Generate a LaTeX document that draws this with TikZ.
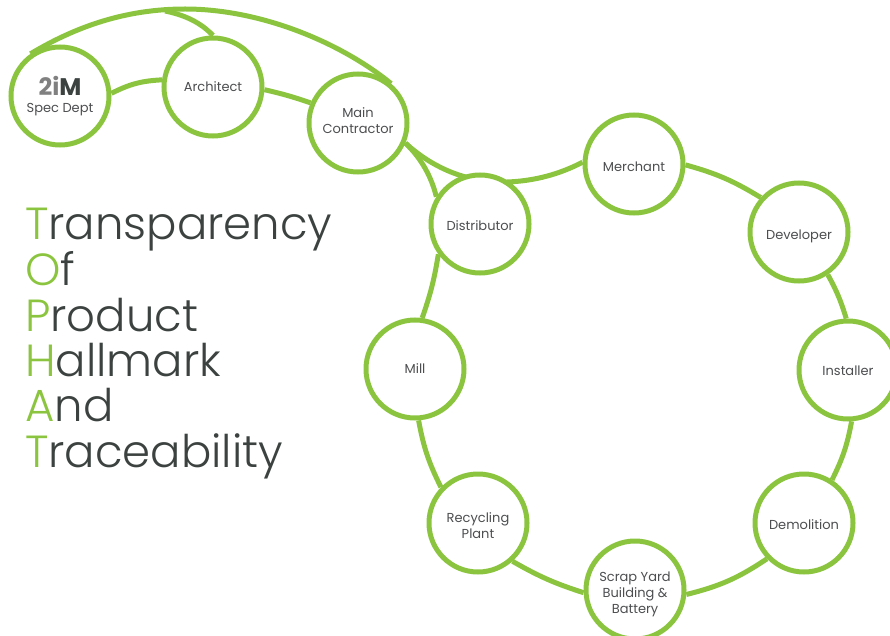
\documentclass[tikz,border=0pt]{standalone}
\usepackage{fontspec}
\setmainfont{Poppins}
\newfontfamily\thinface{Poppins Light}
\usetikzlibrary{backgrounds}
\definecolor{leaf}{HTML}{8BC53F}
\definecolor{labelgrey}{HTML}{4D4E50}
\definecolor{titlegrey}{HTML}{3B4240}
\tikzset{
	party/.style = {circle, draw = leaf, line width = 5pt, fill = white, minimum size = 98pt, inner sep = 0pt, align = center, text = labelgrey, font = \fontsize{13}{16}\selectfont},
	sink/.style = {text height = #1},
	lift/.style = {text depth = #1},
	link/.style = {draw = leaf, line width = 5pt},
	headline/.style = {anchor = base west, inner sep = 0pt, text = titlegrey, font = \thinface\fontsize{45}{45}\selectfont}
}
\begin{document}
\begin{tikzpicture}[x = 1pt, y = -1pt]
	\useasboundingbox (0,0) rectangle (890,636);
	% upper row
	\node[party] (spec) at (60,96) {{\fontsize{24}{24}\selectfont\bfseries\textcolor{gray}{2i}\textcolor{titlegrey}{M}}\\[1pt]Spec Dept};
	\node[party] (architect) at (213,87) {Architect};
	\node[party, lift = 4pt] (main) at (358,123) {Main\\Contractor};
	% ring
	\node[party, sink = 13.5pt] (distributor) at (480,224) {Distributor};
	\node[party, sink = 15.5pt] (merchant) at (634,164) {Merchant};
	\node[party, sink = 17.5pt] (developer) at (799,232) {Developer};
	\node[party, sink = 11.5pt] (installer) at (848,370) {Installer};
	\node[party, sink = 13.5pt] (demolition) at (804,523) {Demolition};
	\node[party, sink = 49.5pt] (scrap) at (635,590) {Scrap Yard\\Building \&\\Battery};
	\node[party, sink = 31.5pt] (recycling) at (478,523) {Recycling\\Plant};
	\node[party] (mill) at (415,369) {Mill};
	\coordinate (crest) at (185,9);
	\coordinate (join) at (165,11);
	\coordinate (bridge) at (507,182);
	% links
	\begin{scope}[on background layer]
		\draw[link] (spec.125) .. controls (75,27) and (125,9) .. (crest) .. controls (260,9) and (340,42) .. (main.50);
		\draw[link] (join) .. controls (190,16) and (204,26) .. (architect.north);
		\draw[link] (spec.3) to[bend left = 12] (architect.172);
		\draw[link] (architect.-3) to[bend left = 3] (main.157);
		\draw[link] (main.-23) .. controls (435,170) and (470,183) .. (bridge) .. controls (535,181) and (560,174) .. (merchant.178);
		\draw[link] (main.-23) .. controls (420,157) and (431,175) .. (distributor.148);
		\draw[link] (merchant.-1) to[bend left = 8] (developer.138);
		\draw[link] (developer.-56) to[bend left = 6] (installer.92);
		\draw[link] (installer.-86) to[bend left = 8] (demolition.57);
		\draw[link] (demolition.-136) to[bend left = 10] (scrap.-5);
		\draw[link] (scrap.183) to[bend left = 6] (recycling.-48);
		\draw[link] (recycling.136) to[bend left = 8] (mill.-86);
		\draw[link] (mill.82) to[bend right = 5] (distributor.216);
	\end{scope}
	% title
	\foreach \initial/\rest/\row/\ypos in {T/ransparency/trans/240, O/f/of/285.5, P/roduct/prod/331, H/allmark/hall/376.5, A/nd/and/421.5, T/raceability/trace/467}
		\node[headline] (\row) at (25,\ypos) {\textcolor{leaf}{\initial}\rest};
\end{tikzpicture}
\end{document}
